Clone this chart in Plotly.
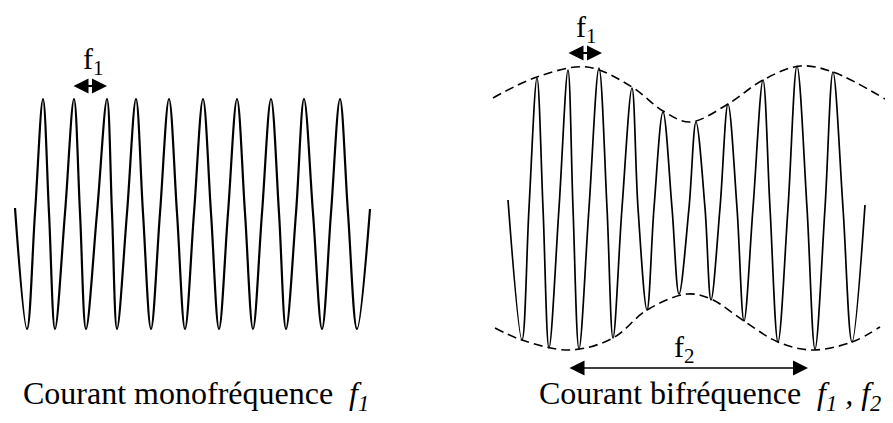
import plotly.graph_objects as go

# ---- Left: single-frequency current (pixel-like units) ----
left_peak_x = [43, 74, 107, 136, 169, 203, 237, 271, 304, 340]
left_peak_y = [99, 99, 99, 99, 99, 99, 99, 99, 99, 99]
left_trough_x = [27, 55, 86, 117, 151, 185, 219, 253, 286, 322, 357]
left_trough_y = [329, 329, 329, 329, 329, 329, 329, 329, 329, 329, 329]
left_cross_x = [15, 35, 49, 65, 80, 97, 112, 127, 143, 160, 177, 194, 211,
                228, 245, 262, 279, 296, 313, 331, 348, 370]
left_cross_y = [208, 213, 213, 213, 213, 213, 213, 213, 213, 213, 213, 213, 213,
                213, 213, 213, 213, 213, 213, 213, 213, 209]

# ---- Right: two-frequency current ----
right_peak_x = [537, 568, 599, 632, 663, 696, 728, 763, 797, 833]
right_peak_y = [78, 70, 68, 88, 112, 122, 104, 80, 66, 72]
right_trough_x = [522, 549, 579, 613, 647, 679, 711, 744, 778, 815, 852]
right_trough_y = [340, 348, 349, 338, 310, 294, 300, 321, 342, 349, 342]
right_cross_x = [508, 529, 543, 559, 573, 589, 607, 622, 638, 654, 672, 689,
                 705, 720, 737, 753, 770, 788, 807, 825, 843, 865]
right_cross_y = [200, 208, 208, 208, 208, 208, 208, 208, 208, 208, 208, 208,
                 208, 208, 208, 208, 208, 208, 208, 208, 208, 205]

# envelopes (dashed)
upper_env_x = [493, 537, 587, 632, 663, 690, 728, 763, 800, 833, 885]
upper_env_y = [98, 77, 67, 87, 111, 122, 104, 80, 66, 72, 99]
lower_env_x = [495, 522, 570, 613, 647, 687, 711, 744, 778, 812, 852, 880]
lower_env_y = [328, 340, 350, 338, 310, 294, 299, 321, 342, 350, 342, 327]

# arrows: (x_start, x_end, y)
arrow_f1_left = (72, 107, 86)
arrow_f1_right = (567, 602, 53)
arrow_f2 = (568, 808, 368)

labels = [
    ("f<sub>1</sub>", 93, 61, 30),
    ("f<sub>1</sub>", 586, 29, 30),
    ("f<sub>2</sub>", 684, 349, 30),
    ("Courant monofréquence  <i>f<sub>1</sub></i>", 196, 395, 32),
    ("Courant bifréquence  <i>f<sub>1</sub> , f<sub>2</sub></i>", 710, 395, 32),
]


def merge(*pairs):
    pts = []
    for xs, ys in pairs:
        pts.extend(zip(xs, ys))
    pts.sort(key=lambda p: p[0])
    return [p[0] for p in pts], [p[1] for p in pts]


lx, ly = merge((left_peak_x, left_peak_y), (left_trough_x, left_trough_y),
               (left_cross_x, left_cross_y))
rx, ry = merge((right_peak_x, right_peak_y), (right_trough_x, right_trough_y),
               (right_cross_x, right_cross_y))

fig = go.Figure()
fig.add_trace(go.Scatter(x=lx, y=ly, mode="lines",
                         line=dict(color="black", width=2.2, shape="spline", smoothing=1.0),
                         hoverinfo="skip"))
fig.add_trace(go.Scatter(x=rx, y=ry, mode="lines",
                         line=dict(color="black", width=1.7, shape="spline", smoothing=1.0),
                         hoverinfo="skip"))
for ex, ey in [(upper_env_x, upper_env_y), (lower_env_x, lower_env_y)]:
    fig.add_trace(go.Scatter(x=ex, y=ey, mode="lines",
                             line=dict(color="black", width=1.6, shape="spline",
                                       smoothing=1.0, dash="9px,5px"),
                             hoverinfo="skip"))

annotations = []
for (x0, x1, y), w, s in [(arrow_f1_left, 2, 1.5), (arrow_f1_right, 2, 1.5), (arrow_f2, 1.5, 2)]:
    annotations.append(dict(x=x1, y=y, ax=x0, ay=y, xref="x", yref="y", axref="x", ayref="y",
                            text="", showarrow=True, arrowhead=2, startarrowhead=2,
                            arrowside="end+start", arrowwidth=w, arrowsize=s,
                            startarrowsize=s, arrowcolor="black"))
for text, x, y, size in labels:
    annotations.append(dict(x=x, y=y, xref="x", yref="y", text=text, showarrow=False,
                            xanchor="center", yanchor="middle",
                            font=dict(family="Liberation Serif", size=size, color="black")))

# the page body has an 8px margin: the figure starts at page pixel 8
fig.update_layout(
    width=885, height=415,
    margin=dict(l=0, r=0, t=0, b=0),
    paper_bgcolor="white", plot_bgcolor="white",
    showlegend=False,
    xaxis=dict(range=[8, 893], visible=False, fixedrange=True),
    yaxis=dict(range=[423, 8], visible=False, fixedrange=True),
    annotations=annotations,
)
fig.write_html("out.html")
